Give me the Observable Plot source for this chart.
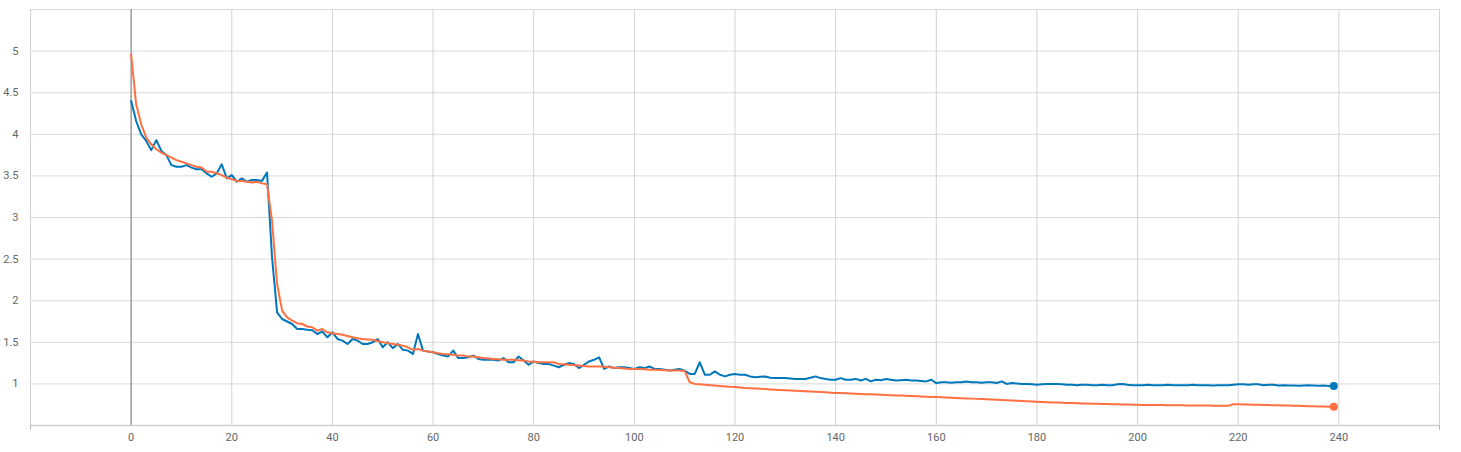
<!DOCTYPE html>
<html>
<head>
<meta charset="utf-8">
<script src="https://cdn.jsdelivr.net/npm/d3@7"></script>
<script src="https://cdn.jsdelivr.net/npm/@observablehq/plot@0.6"></script>
<style>
  html, body { margin: 0; padding: 0; background: #fff; }
  #chart svg { display: block; }
</style>
</head>
<body>
<div id="chart"></div>
<script>
const blueValues = [
  4.40, 4.16, 4.00, 3.92, 3.81, 3.93, 3.80, 3.75, 3.63, 3.61,
  3.61, 3.63, 3.60, 3.58, 3.58, 3.53, 3.49, 3.53, 3.64, 3.47,
  3.51, 3.43, 3.47, 3.43, 3.45, 3.45, 3.44, 3.54, 2.52, 1.86,
  1.78, 1.75, 1.72, 1.66, 1.66, 1.65, 1.645, 1.60, 1.63, 1.56,
  1.62, 1.54, 1.52, 1.48, 1.54, 1.52, 1.48, 1.48, 1.50, 1.54,
  1.44, 1.50, 1.43, 1.48, 1.41, 1.40, 1.36, 1.60, 1.40, 1.39,
  1.38, 1.36, 1.34, 1.33, 1.40, 1.31, 1.31, 1.32, 1.34, 1.30,
  1.29, 1.29, 1.29, 1.28, 1.31, 1.26, 1.26, 1.33, 1.28, 1.23,
  1.27, 1.25, 1.24, 1.24, 1.22, 1.20, 1.23, 1.25, 1.24, 1.19,
  1.23, 1.27, 1.29, 1.32, 1.18, 1.21, 1.19, 1.20, 1.20, 1.19,
  1.18, 1.20, 1.19, 1.21, 1.18, 1.18, 1.17, 1.16, 1.17, 1.18,
  1.16, 1.12, 1.12, 1.26, 1.11, 1.11, 1.15, 1.11, 1.09, 1.11,
  1.12, 1.11, 1.11, 1.09, 1.08, 1.085, 1.09, 1.075, 1.07, 1.07,
  1.07, 1.065, 1.06, 1.06, 1.06, 1.075, 1.09, 1.07, 1.06, 1.05,
  1.05, 1.07, 1.05, 1.05, 1.06, 1.04, 1.06, 1.03, 1.05, 1.045,
  1.06, 1.05, 1.04, 1.045, 1.05, 1.04, 1.04, 1.035, 1.03, 1.05,
  1.01, 1.02, 1.02, 1.015, 1.02, 1.02, 1.03, 1.02, 1.02, 1.015,
  1.02, 1.02, 1.01, 1.03, 1.00, 1.01, 1.005, 1.00, 1.00, 0.995,
  0.99, 0.995, 1.00, 1.00, 1.00, 0.995, 0.99, 0.99, 0.985, 0.99,
  0.99, 0.985, 0.985, 0.99, 0.985, 0.985, 0.995, 1.00, 0.99, 0.985,
  0.985, 0.985, 0.99, 0.983, 0.985, 0.985, 0.99, 0.985, 0.985, 0.983,
  0.985, 0.99, 0.985, 0.985, 0.983, 0.98, 0.983, 0.985, 0.985, 0.99,
  0.995, 0.995, 0.99, 0.995, 0.995, 0.985, 0.99, 0.99, 0.98, 0.985,
  0.98, 0.98, 0.978, 0.98, 0.983, 0.98, 0.978, 0.98, 0.976, 0.976
];

const orangeValues = [
  4.96, 4.36, 4.12, 3.96, 3.88, 3.82, 3.78, 3.75, 3.72, 3.69,
  3.67, 3.65, 3.63, 3.61, 3.60, 3.55, 3.55, 3.53, 3.51, 3.48,
  3.46, 3.44, 3.44, 3.43, 3.42, 3.43, 3.41, 3.40, 2.96, 2.20,
  1.88, 1.80, 1.76, 1.73, 1.72, 1.69, 1.68, 1.64, 1.66, 1.62,
  1.61, 1.60, 1.59, 1.575, 1.56, 1.55, 1.54, 1.535, 1.53, 1.515,
  1.50, 1.49, 1.48, 1.47, 1.46, 1.44, 1.41, 1.42, 1.40, 1.39,
  1.38, 1.37, 1.36, 1.355, 1.35, 1.34, 1.34, 1.33, 1.33, 1.32,
  1.31, 1.305, 1.30, 1.295, 1.29, 1.29, 1.29, 1.285, 1.28, 1.27,
  1.265, 1.26, 1.26, 1.26, 1.26, 1.24, 1.235, 1.23, 1.225, 1.22,
  1.215, 1.21, 1.21, 1.21, 1.205, 1.20, 1.195, 1.19, 1.185, 1.18,
  1.18, 1.18, 1.175, 1.17, 1.17, 1.168, 1.165, 1.16, 1.16, 1.16,
  1.156, 1.02, 1.00, 0.995, 0.99, 0.985, 0.98, 0.976, 0.97, 0.965,
  0.962, 0.956, 0.95, 0.947, 0.944, 0.941, 0.938, 0.934, 0.931, 0.928,
  0.924, 0.921, 0.918, 0.915, 0.912, 0.908, 0.905, 0.902, 0.899, 0.895,
  0.892, 0.89, 0.887, 0.885, 0.882, 0.88, 0.877, 0.875, 0.872, 0.87,
  0.867, 0.865, 0.862, 0.86, 0.857, 0.855, 0.852, 0.85, 0.847, 0.844,
  0.842, 0.839, 0.836, 0.834, 0.831, 0.828, 0.826, 0.823, 0.82, 0.818,
  0.815, 0.812, 0.809, 0.806, 0.803, 0.80, 0.797, 0.794, 0.791, 0.788,
  0.785, 0.782, 0.779, 0.777, 0.775, 0.773, 0.771, 0.769, 0.767, 0.765,
  0.763, 0.762, 0.760, 0.759, 0.757, 0.756, 0.754, 0.753, 0.751, 0.75,
  0.748, 0.747, 0.747, 0.746, 0.745, 0.745, 0.744, 0.743, 0.743, 0.742,
  0.741, 0.741, 0.74, 0.739, 0.739, 0.738, 0.737, 0.737, 0.736, 0.756,
  0.755, 0.753, 0.752, 0.75, 0.748, 0.747, 0.745, 0.744, 0.742, 0.74,
  0.739, 0.737, 0.736, 0.734, 0.732, 0.731, 0.729, 0.728, 0.726, 0.724
];

const xTickLabels = [0, 20, 40, 60, 80, 100, 120, 140, 160, 180, 200, 220, 240];
const xGrid = [-20, 0, 20, 40, 60, 80, 100, 120, 140, 160, 180, 200, 220, 240, 260];
const yTickLabels = [1, 1.5, 2, 2.5, 3, 3.5, 4, 4.5, 5];
const yGrid = [0.5, 1, 1.5, 2, 2.5, 3, 3.5, 4, 4.5, 5, 5.5];
const xDomain = [-20, 260];
const yDomain = [0.5, 5.5];

const BLUE = "#0077bb";
const ORANGE = "#ff7043";

const blue = blueValues.map((v, i) => ({step: i, value: v}));
const orange = orangeValues.map((v, i) => ({step: i, value: v}));

const chart = Plot.plot({
  width: 1461,
  height: 452,
  marginLeft: 30,
  marginRight: 22,
  marginTop: 9,
  marginBottom: 27,
  style: {fontFamily: "Roboto, sans-serif", fontSize: "11px", color: "#666", background: "#fff"},
  x: {domain: xDomain},
  y: {domain: yDomain},
  marks: [
    Plot.ruleY(yGrid, {stroke: "#dadada", strokeWidth: 1}),
    Plot.ruleX(xGrid.filter(d => d !== 0), {stroke: "#d2d2d2", strokeWidth: 1}),
    Plot.ruleX([0], {stroke: "#9a9a9a", strokeWidth: 1.5}),
    Plot.ruleY([0.5], {stroke: "#d0d0d0", strokeWidth: 1.5}),
    Plot.axisY({ticks: yTickLabels, tickSize: 0, tickPadding: 12, tickFormat: d => String(d), label: null, fill: "#666"}),
    Plot.axisX({ticks: xTickLabels, tickSize: 0, tickPadding: 8, tickFormat: d => String(d), label: null, fill: "#666"}),
    Plot.axisX({ticks: [-20, 260], tickSize: 5, tickFormat: () => "", label: null, stroke: "#bbb"}),
    Plot.line(blue, {x: "step", y: "value", stroke: BLUE, strokeWidth: 2, strokeLinejoin: "round"}),
    Plot.line(orange, {x: "step", y: "value", stroke: ORANGE, strokeWidth: 2, strokeLinejoin: "round"}),
    Plot.dot(blue.slice(-1), {x: "step", y: "value", r: 4, fill: BLUE}),
    Plot.dot(orange.slice(-1), {x: "step", y: "value", r: 4, fill: ORANGE})
  ]
});
document.getElementById("chart").appendChild(chart);
</script>
</body>
</html>
